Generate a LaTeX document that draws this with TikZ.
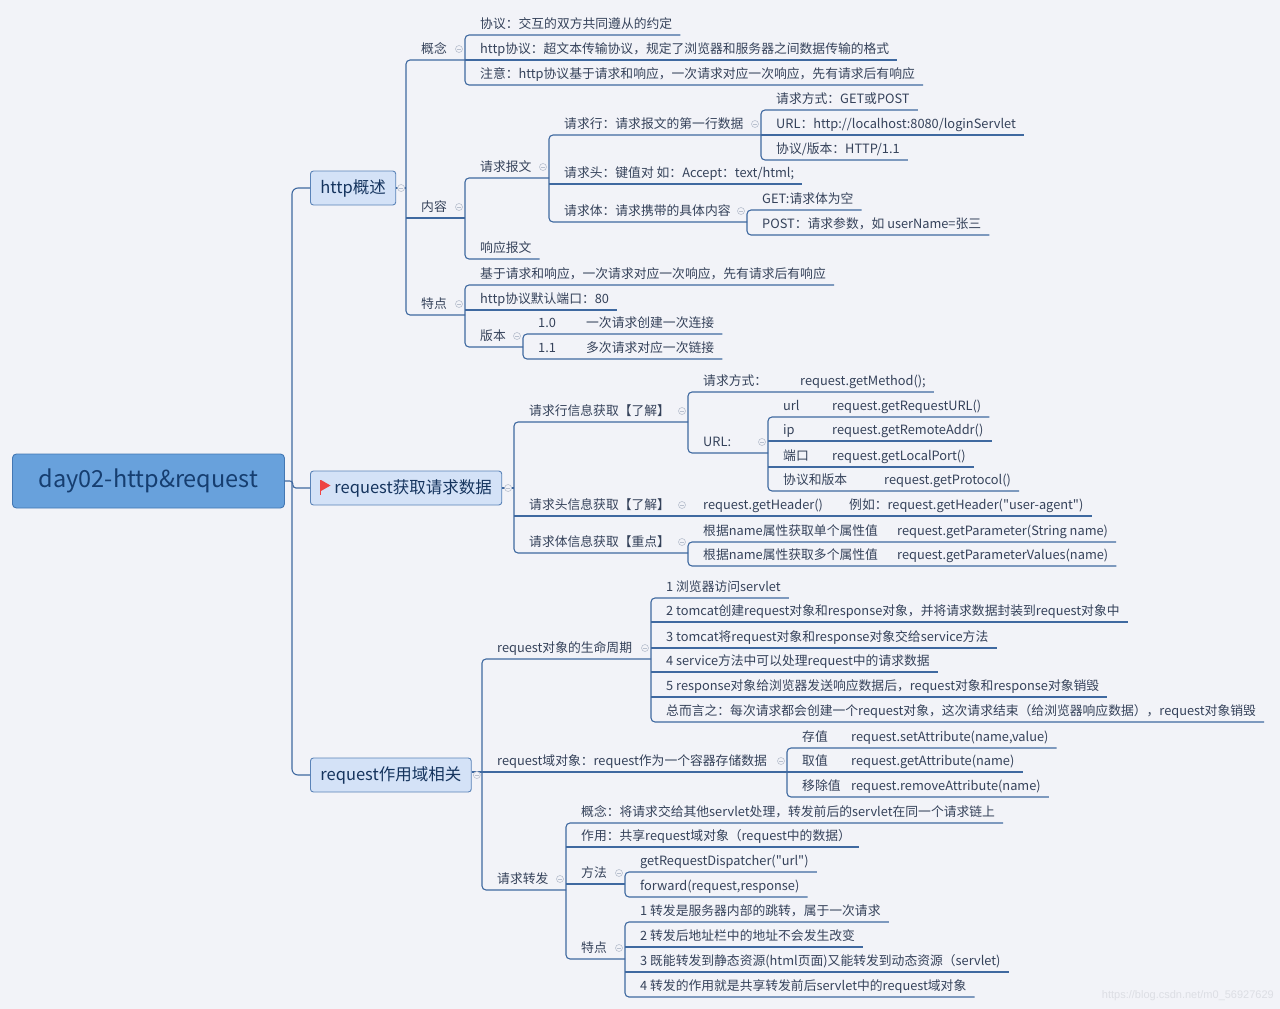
\documentclass[tikz,border=0pt]{standalone}
\usepackage{fontspec}
\setmainfont{Noto Sans CJK SC}[Ligatures=TeXOff]
\newfontfamily\wmfont{Liberation Sans}
\usetikzlibrary{calc}
\definecolor{bg}{HTML}{F2F3F8}
\definecolor{linecol}{HTML}{3F69A0}
\definecolor{tptext}{HTML}{35425A}
\definecolor{boxfill}{HTML}{D4E2F7}
\definecolor{boxline}{HTML}{5A83B8}
\definecolor{boxtext}{HTML}{15345E}
\definecolor{rootfill}{HTML}{68A1DC}
\definecolor{rootline}{HTML}{4377B3}
\definecolor{roottext}{HTML}{163E70}
\definecolor{foldgray}{HTML}{B8C0CE}
\definecolor{flagred}{HTML}{EE4444}
\definecolor{wmgray}{HTML}{DCDEE4}
\newcommand\tpfont{\fontsize{12.8}{15}\selectfont}
\newcommand\tabcol[2]{\makebox[#1][l]{#2}}
\tikzset{
    edgeline/.style = {draw=linecol, line width=1.1pt},
    tp/.style = {anchor=south west, inner xsep=8pt, inner ysep=4pt, text height=9.5pt, text depth=2.5pt, font=\tpfont, text=tptext, execute at begin node=\hspace*{7pt}},
    mainbox/.style = {draw=boxline, fill=boxfill, line width=0.9pt, rounded corners=3pt, anchor=west, minimum height=34pt, inner xsep=10pt, text=boxtext, font=\fontsize{16.5}{19}\selectfont},
    rootbox/.style = {draw=rootline, fill=rootfill, line width=0.9pt, rounded corners=4pt, anchor=west, minimum width=272pt, minimum height=54pt, text=roottext, font=\fontsize{23.5}{27}\selectfont},
    foldmark/.style = {circle, draw=foldgray, fill=bg, line width=0.6pt, minimum size=7pt, inner sep=0pt, path picture={\draw[foldgray, line width=0.6pt] ([xshift=-2pt]path picture bounding box.center) -- ([xshift=2pt]path picture bounding box.center);}},
    wmark/.style = {anchor=east, inner sep=0pt, text=wmgray, font=\wmfont\fontsize{11}{13}\selectfont},
}
\begin{document}
\begin{tikzpicture}[x=1pt, y=-1pt]
\fill[bg] (0,0) rectangle (1280,1009);
\useasboundingbox (0,0) rectangle (1280,1009);

% root and main topics
\node[rootbox] (root) at (12,481) {day02-http\&request};
\node[mainbox] (http) at (310,188) {http概述};
\node[mainbox] (data) at (310,488) {\hspace*{14pt}request获取请求数据};
\node[mainbox] (scope) at (310,775) {request作用域相关};
\draw[flagred, line width=1.3pt] ([shift={(10.6,-8)}]data.west) -- ++(0,15);
\fill[flagred] ([shift={(11,-8)}]data.west) -- ++(9.5,5.5) -- ++(-9.5,5.5) -- cycle;

% http概述
\node[tp] (gn) at (406,60) {概念};
\node[tp] (gn1) at (465,35) {协议：交互的双方共同遵从的约定};
\node[tp] (gn2) at (465,60) {http协议：超文本传输协议，规定了浏览器和服务器之间数据传输的格式};
\node[tp] (gn3) at (465,85) {注意：http协议基于请求和响应，一次请求对应一次响应，先有请求后有响应};
\node[tp] (nr) at (406,218) {内容};
\node[tp] (qq) at (465,178) {请求报文};
\node[tp] (qh) at (549,135) {请求行：请求报文的第一行数据};
\node[tp] (qh1) at (761,110) {请求方式：GET或POST};
\node[tp] (qh2) at (761,135) {URL：http://localhost:8080/loginServlet};
\node[tp] (qh3) at (761,160) {协议/版本：HTTP/1.1};
\node[tp] (qt) at (549,184) {请求头：键值对\ 如：Accept：text/html;};
\node[tp] (qb) at (549,222) {请求体：请求携带的具体内容};
\node[tp] (qb1) at (747,210) {GET:请求体为空};
\node[tp] (qb2) at (747,235) {POST：请求参数，如 userName=张三};
\node[tp] (xy) at (465,259) {响应报文};
\node[tp] (td) at (406,315) {特点};
\node[tp] (td1) at (465,285) {基于请求和响应，一次请求对应一次响应，先有请求后有响应};
\node[tp] (td2) at (465,310) {http协议默认端口：80};
\node[tp] (bb) at (465,347) {版本};
\node[tp] (bb1) at (523,334) {\tabcol{48pt}{1.0}一次请求创建一次连接};
\node[tp] (bb2) at (523,359) {\tabcol{48pt}{1.1}多次请求对应一次链接};

% request获取请求数据
\node[tp] (hl) at (514,422) {请求行信息获取【了解】};
\node[tp] (hl1) at (688,392) {\tabcol{97pt}{请求方式：}request.getMethod();};
\node[tp] (url) at (688,453) {URL:};
\node[tp] (url1) at (768,417) {\tabcol{49pt}{url}request.getRequestURL()};
\node[tp] (url2) at (768,441) {\tabcol{49pt}{ip}request.getRemoteAddr()};
\node[tp] (url3) at (768,467) {\tabcol{49pt}{端口}request.getLocalPort()};
\node[tp] (url4) at (768,491) {\tabcol{101pt}{协议和版本}request.getProtocol()};
\node[tp] (ht) at (514,516) {请求头信息获取【了解】};
\node[tp] (ht1) at (688,516) {\tabcol{146pt}{request.getHeader()}例如：request.getHeader("user-agent")};
\node[tp] (hb) at (514,553) {请求体信息获取【重点】};
\node[tp] (hb1) at (688,542) {\tabcol{194pt}{根据name属性获取单个属性值}request.getParameter(String name)};
\node[tp] (hb2) at (688,566) {\tabcol{194pt}{根据name属性获取多个属性值}request.getParameterValues(name)};

% request作用域相关
\node[tp] (sm) at (482,659) {request对象的生命周期};
\node[tp] (sm1) at (651,598) {1 浏览器访问servlet};
\node[tp] (sm2) at (651,622) {2 tomcat创建request对象和response对象，并将请求数据封装到request对象中};
\node[tp] (sm3) at (651,648) {3 tomcat将request对象和response对象交给service方法};
\node[tp] (sm4) at (651,672) {4 service方法中可以处理request中的请求数据};
\node[tp] (sm5) at (651,697) {5 response对象给浏览器发送响应数据后，request对象和response对象销毁};
\node[tp] (sm6) at (651,722) {总而言之：每次请求都会创建一个request对象，这次请求结束（给浏览器响应数据），request对象销毁};
\node[tp] (yu) at (482,772) {request域对象：request作为一个容器存储数据};
\node[tp] (yu1) at (787,748) {\tabcol{49pt}{存值}request.setAttribute(name,value)};
\node[tp] (yu2) at (787,772) {\tabcol{49pt}{取值}request.getAttribute(name)};
\node[tp] (yu3) at (787,797) {\tabcol{49pt}{移除值}request.removeAttribute(name)};
\node[tp] (zf) at (482,890) {请求转发};
\node[tp] (zf1) at (566,823) {概念：将请求交给其他servlet处理，转发前后的servlet在同一个请求链上};
\node[tp] (zf2) at (566,847) {作用：共享request域对象（request中的数据）};
\node[tp] (ff) at (566,884) {方法};
\node[tp] (ff1) at (625,872) {getRequestDispatcher("url")};
\node[tp] (ff2) at (625,897) {forward(request,response)};
\node[tp] (tt) at (566,959) {特点};
\node[tp] (tt1) at (625,922) {1 转发是服务器内部的跳转，属于一次请求};
\node[tp] (tt2) at (625,947) {2 转发后地址栏中的地址不会发生改变};
\node[tp] (tt3) at (625,972) {3 既能转发到静态资源(html页面)又能转发到动态资源（servlet)};
\node[tp] (tt4) at (625,997) {4 转发的作用就是共享转发前后servlet中的request域对象};

% main spine
\draw[edgeline, rounded corners=6pt] (http.west) -- ++(-18,0) |- (scope.west);
\draw[edgeline, rounded corners=3pt] (root.east) -- ++(8,0) |- (data.west);
\draw[edgeline] (http.east) -- (http.east -| gn.west);
\draw[edgeline] (data.east) -- (data.east -| hl.west);
\draw[edgeline] (scope.east |- yu.south) -- (yu.south west);

% groups with children
\draw[edgeline, rounded corners=4pt] (gn.south -| gn1.west) -- (gn.south west) -- (td.south west) -- (td.south -| td1.west);
\draw[edgeline] (nr.south west) -- (nr.south -| qq.west);
\draw[edgeline, rounded corners=4pt] (gn1.south east) -- (gn1.south west) -- (gn3.south west) -- (gn3.south east);
\draw[edgeline, rounded corners=4pt] (qq.south -| qh.west) -- (qq.south west) -- (xy.south west) -- (xy.south east);
\draw[edgeline, rounded corners=4pt] (qh.south -| qh1.west) -- (qh.south west) -- (qb.south west) -- (qb.south -| qb1.west);
\draw[edgeline, rounded corners=4pt] (qh1.south east) -- (qh1.south west) -- (qh3.south west) -- (qh3.south east);
\draw[edgeline, rounded corners=4pt] (qb1.south east) -- (qb1.south west) -- (qb2.south west) -- (qb2.south east);
\draw[edgeline, rounded corners=4pt] (td1.south east) -- (td1.south west) -- (bb.south west) -- (bb.south -| bb1.west);
\draw[edgeline, rounded corners=4pt] (bb1.south east) -- (bb1.south west) -- (bb2.south west) -- (bb2.south east);

\draw[edgeline, rounded corners=4pt] (hl.south -| hl1.west) -- (hl.south west) -- (hb.south west) -- (hb.south -| hb1.west);
\draw[edgeline] (ht.south west) -- (ht1.south east);
\draw[edgeline, rounded corners=4pt] (hl1.south east) -- (hl1.south west) -- (url.south west) -- (url.south -| url1.west);
\draw[edgeline, rounded corners=4pt] (url1.south east) -- (url1.south west) -- (url4.south west) -- (url4.south east);
\draw[edgeline, rounded corners=4pt] (hb1.south east) -- (hb1.south west) -- (hb2.south west) -- (hb2.south east);

\draw[edgeline, rounded corners=4pt] (sm.south -| sm1.west) -- (sm.south west) -- (zf.south west) -- (zf.south -| zf1.west);
\draw[edgeline] (yu.south west) -- (yu.south -| yu1.west);
\draw[edgeline, rounded corners=4pt] (sm1.south east) -- (sm1.south west) -- (sm6.south west) -- (sm6.south east);
\draw[edgeline, rounded corners=4pt] (yu1.south east) -- (yu1.south west) -- (yu3.south west) -- (yu3.south east);
\draw[edgeline, rounded corners=4pt] (zf1.south east) -- (zf1.south west) -- (tt.south west) -- (tt.south -| tt1.west);
\draw[edgeline] (ff.south west) -- (ff.south -| ff1.west);
\draw[edgeline, rounded corners=4pt] (ff1.south east) -- (ff1.south west) -- (ff2.south west) -- (ff2.south east);
\draw[edgeline, rounded corners=4pt] (tt1.south east) -- (tt1.south west) -- (tt4.south west) -- (tt4.south east);

% middle leaves
\foreach \n in {gn2, qt, qh2, td2, url2, url3, sm2, sm3, sm4, sm5, yu2, zf2, tt2, tt3}
    \draw[edgeline] (\n.south west) -- (\n.south east);

% fold marks
\foreach \p/\c in {gn/gn1, nr/qq, qq/qh, qh/qh1, qb/qb1, td/td1, bb/bb1, hl/hl1, url/url1, ht/ht1, hb/hb1, sm/sm1, yu/yu1, zf/zf1, ff/ff1, tt/tt1}
    \node[foldmark] (f-\p) at ($(\p.south -| \c.west)+(-6,-11)$) {};
\foreach \b/\c in {http/gn, data/hl, scope/yu}
    \node[foldmark] (f-\b) at ($(\b.east)!.5!(\b.east -| \c.west)$) {};

\node[wmark] (mark) at (1274,996) {https://blog.csdn.net/m0\_56927629};
\end{tikzpicture}
\end{document}
